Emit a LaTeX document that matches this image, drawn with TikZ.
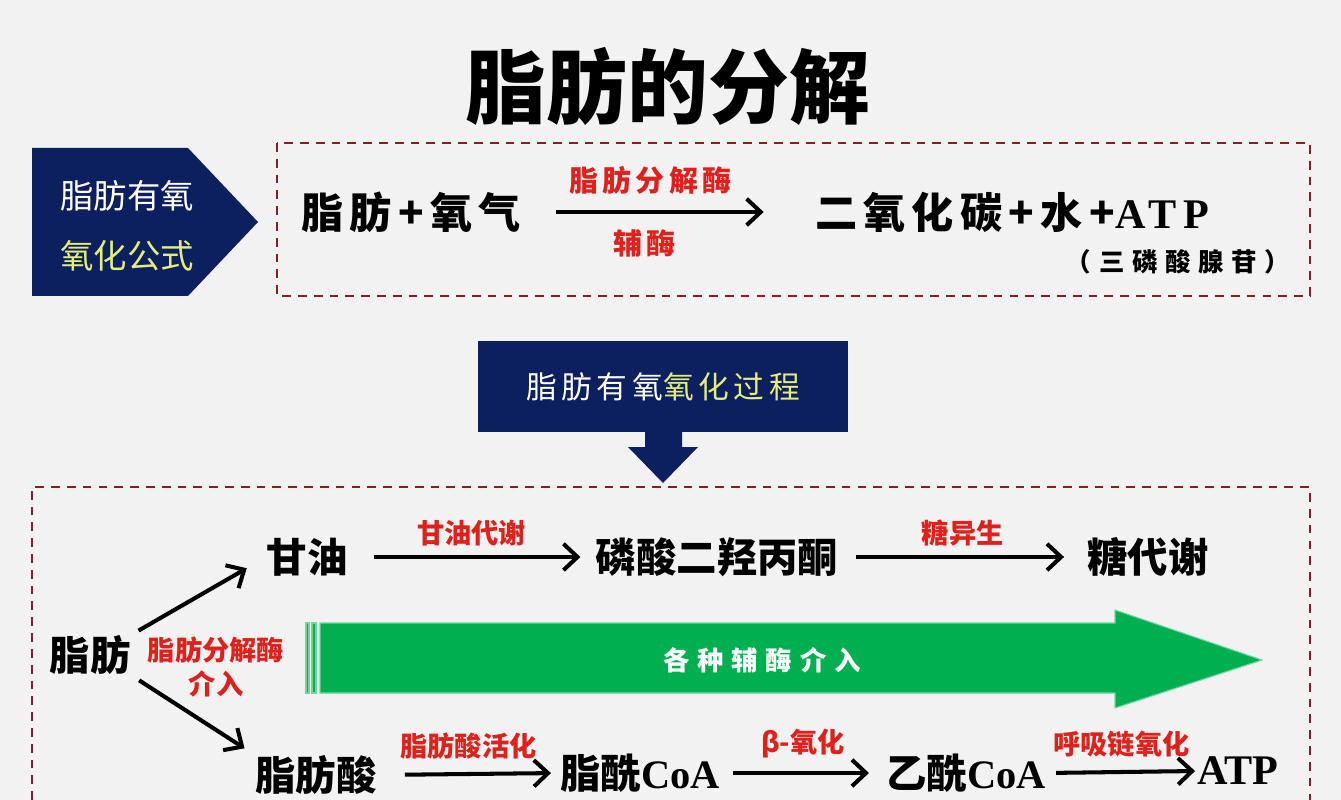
\documentclass[tikz,border=0pt]{standalone}
\usepackage{fontspec}
\setmainfont{Liberation Serif}
\newfontfamily\cjk{Noto Sans CJK SC}
\newfontfamily\cjkwide{Noto Sans CJK SC}[LetterSpace=15]
\newfontfamily\cjkwider{Noto Sans CJK SC}[LetterSpace=30]
\newfontfamily\serwide{Liberation Serif}[LetterSpace=15]
\usetikzlibrary{arrows.meta}
\definecolor{bgray}{HTML}{F2F2F2}
\definecolor{navy}{HTML}{0C1F5E}
\definecolor{hiyel}{HTML}{E4EE78}
\definecolor{enzred}{HTML}{E0201B}
\definecolor{boxred}{HTML}{8B1C24}
\definecolor{arrgreen}{HTML}{00B050}

\begin{document}
\begin{tikzpicture}[x=0.02cm,y=-0.02cm,
    chem/.style={font=\cjk\bfseries\fontsize{23}{26}\selectfont,inner sep=0pt},
    enz/.style={text=enzred,font=\cjk\bfseries\fontsize{15.5}{19}\selectfont,inner sep=0pt},
    react/.style={line width=2.3pt,-{Straight Barb[length=8pt,width=15pt]}},
    frame/.style={draw=boxred,line width=1.1pt,dash pattern=on 5pt off 4pt}]
      \fill[bgray] (0,0) rectangle (1341,800);
      \useasboundingbox (0,0) rectangle (1341,800);
      \node[font=\cjk\bfseries\fontsize{46}{52}\selectfont] (title) at (668,86) {脂肪的分解};
      \fill[navy] (32,148) -- (188,148) -- (258,222) -- (188,296) -- (32,296) -- cycle;
      \node[text=white,font=\cjk\fontsize{19}{22}\selectfont] (aer1) at (127,196) {脂肪有氧};
      \node[text=hiyel,font=\cjk\fontsize{19}{22}\selectfont] (aer2) at (127,256) {氧化公式};
      \draw[frame] (277,143) rectangle (1310,296);
      \node[font=\cjkwide\bfseries\fontsize{24}{27}\selectfont,inner sep=0pt] (lhs) at (411,212) {脂肪+氧气};
      \node[font=\cjkwide\bfseries\fontsize{24}{27}\selectfont,inner sep=0pt] (rhs) at (1012,212) {二氧化碳+水+{\serwide ATP}};
      \node[font=\cjkwider\bfseries\fontsize{14.5}{17}\selectfont] (atpname) at (1178,262) {（三磷酸腺苷）};
      \draw[react,shorten <=0.7cm,shorten >=1.02cm] (lhs.east) -- node[pos=0.44,enz,font=\cjkwide\bfseries\fontsize{16.5}{19}\selectfont,above=9pt] {脂肪分解酶} node[pos=0.42,enz,font=\cjkwide\bfseries\fontsize{16.5}{19}\selectfont,below=9pt] {辅酶} (rhs.west);
      \fill[navy] (478,341) rectangle (848,432);
      \fill[navy] (645,431) -- (645,447) -- (628,447) -- (663,483) -- (698,447) -- (682,447) -- (682,431) -- cycle;
      \node[font=\cjkwide\fontsize{17.5}{20}\selectfont] (proc) at (663,387) {\textcolor{white}{脂肪有氧}\textcolor{hiyel}{氧化过程}};
      \draw[frame] (32,800) -- (32,487) -- (1310,487) -- (1310,800);
      \node[chem] (fat) at (90,655) {脂肪};
      \node[chem] (gly) at (307,557) {甘油};
      \node[chem] (dhap) at (717,557) {磷酸二羟丙酮};
      \node[chem] (sugar) at (1148,557) {糖代谢};
      \node[chem] (fa) at (316,775) {脂肪酸};
      \node[chem] (acyl) at (640,773) {脂酰{\rmfamily CoA}};
      \node[chem] (acetyl) at (966,773) {乙酰{\rmfamily CoA}};
      \node[chem,font=\rmfamily\bfseries\fontsize{24}{26}\selectfont] (atp) at (1238,771) {ATP};
      \node[enz,align=center] (lipase) at (216,667) {脂肪分解酶\\介入};
      \draw[react,shorten <=0.18cm,shorten >=0.45cm] (fat.north east) -- (gly.west);
      \draw[react,shorten <=0.2cm,shorten >=0.25cm] (fat.south east) -- (fa.north west);
      \draw[react,shorten <=0.52cm,shorten >=0.3cm] (gly.east) -- node[enz,above=5pt] {甘油代谢} (dhap.west);
      \draw[react,shorten <=0.34cm,shorten >=0.46cm] (dhap.east) -- node[enz,above=5pt] {糖异生} (sugar.west);
      \draw[react,shorten <=0.56cm,shorten >=0.18cm] (fa.east) -- node[enz,above=7.5pt] {脂肪酸活化} (acyl.west);
      \draw[react,shorten <=0.26cm,shorten >=0.34cm] (acyl.east) -- node[enz,above=7.5pt] {β-氧化} (acetyl.west);
      \draw[react,shorten <=0.2cm,shorten >=0.04cm] (acetyl.east) -- node[enz,above=7.5pt] {呼吸链氧化} (atp.west);
      \fill[arrgreen,draw=arrgreen!55!white,line width=0.6pt] (320,623) -- (1115,623) -- (1115,610) -- (1262,660) -- (1115,708) -- (1115,693) -- (320,693) -- cycle;
      \fill[arrgreen,draw=arrgreen!55!white,line width=0.6pt] (306,623) rectangle (309,693);
      \fill[arrgreen,draw=arrgreen!55!white,line width=0.6pt] (312,623) rectangle (316,693);
      \node[text=white,font=\cjkwider\bfseries\fontsize{15}{18}\selectfont] (cofac) at (762,660) {各种辅酶介入};
\end{tikzpicture}
\end{document}
